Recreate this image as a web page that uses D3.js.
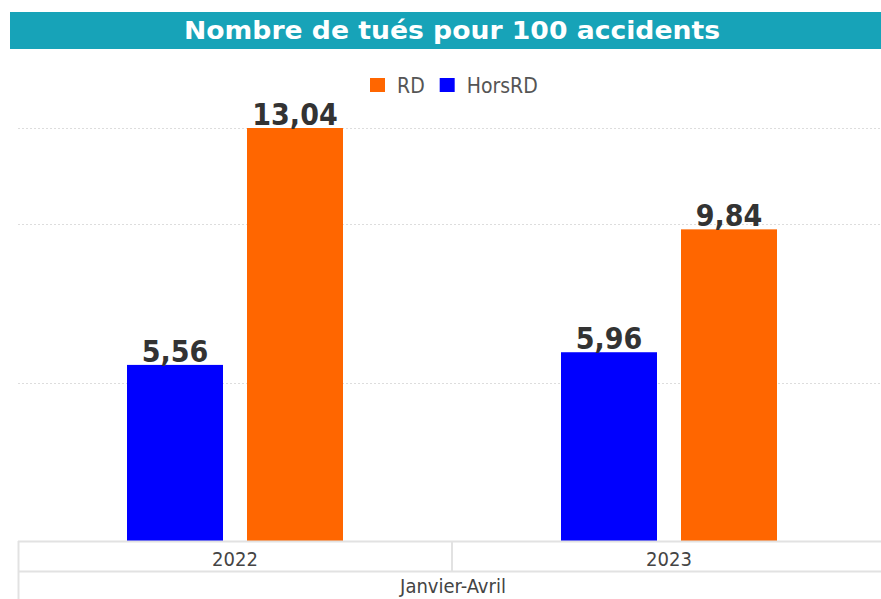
<!DOCTYPE html>
<html>
<head>
<meta charset="utf-8">
<script src="https://cdn.jsdelivr.net/npm/d3@7"></script>
<style>
  body { margin: 0; background: #fff; }
  svg { display: block; }
</style>
</head>
<body>
<svg id="canvas" width="881" height="599"></svg>
<script>
let title = "Nombre de tués pour 100 accidents";
let years = ["2022", "2023"];
let period = "Janvier-Avril";
let seriesNames = ["HorsRD", "RD"];
let legendOrder = ["RD", "HorsRD"];
let horsRD = [5.56, 5.96];
let rd = [13.04, 9.84];
let gridValues = [5, 10, 13.04];

let colors = { "RD": "#ff6600", "HorsRD": "#0000ff" };

let canvas = d3.select('#canvas');

let plotLeft = 18, plotRight = 886, baseline = 541, plotTop = 128;

let x = d3.scaleBand().domain(years).range([plotLeft, plotRight]);
let inner = d3.scaleBand().domain(seriesNames).range([0, 216]).paddingInner(0.2);
let y = d3.scaleLinear().domain([0, 13.04]).range([baseline, plotTop]);

let rows = years.map((yr, i) => ({ year: yr, HorsRD: horsRD[i], RD: rd[i] }));

// title bar
canvas.append('rect')
  .attr('x', 10).attr('y', 12).attr('width', 871).attr('height', 37)
  .attr('fill', '#17a3b8');
canvas.append('text')
  .attr('x', 452).attr('y', 38.5)
  .attr('text-anchor', 'middle')
  .attr('fill', '#fff')
  .attr('textLength', 536)
  .attr('lengthAdjust', 'spacingAndGlyphs')
  .style('font', 'bold 24px "DejaVu Sans"')
  .text(title);

// legend
let legend = canvas.append('g').attr('transform', 'translate(370,78)');
let lx = 0;
legendOrder.forEach((name) => {
  legend.append('rect').attr('x', lx).attr('y', 0).attr('width', 15).attr('height', 14)
    .attr('fill', colors[name]);
  let t = legend.append('text').attr('x', lx + 27).attr('y', 15)
    .attr('fill', '#555')
    .style('font', '21px "DejaVu Sans Condensed"')
    .text(name);
  lx += 27 + t.node().getComputedTextLength() + 15;
});

// grid
canvas.selectAll('line.grid')
  .data(gridValues)
  .enter()
  .append('line')
  .attr('class', 'grid')
  .attr('x1', plotLeft).attr('x2', 881)
  .attr('y1', d => Math.round(y(d)) + 0.5).attr('y2', d => Math.round(y(d)) + 0.5)
  .attr('stroke', '#dddddd')
  .attr('stroke-dasharray', '2,2');

// bars
let groups = canvas.selectAll('g.year')
  .data(rows)
  .enter()
  .append('g')
  .attr('class', 'year')
  .attr('transform', d => 'translate(' + (x(d.year) + (x.bandwidth() - 216) / 2) + ',0)');

groups.selectAll('rect')
  .data(d => seriesNames.map(s => ({ key: s, value: d[s] })))
  .enter()
  .append('rect')
  .attr('x', d => inner(d.key))
  .attr('y', d => y(d.value))
  .attr('width', inner.bandwidth())
  .attr('height', d => baseline - y(d.value))
  .attr('fill', d => colors[d.key]);

groups.selectAll('text')
  .data(d => seriesNames.map(s => ({ key: s, value: d[s] })))
  .enter()
  .append('text')
  .attr('x', d => inner(d.key) + inner.bandwidth() / 2)
  .attr('y', d => y(d.value) - 3)
  .attr('text-anchor', 'middle')
  .attr('fill', '#333')
  .style('font', 'bold 30px "DejaVu Sans Condensed"')
  .text(d => d.value.toFixed(2).replace('.', ','));

// category table
let border = '#e2e2e2';
canvas.append('line').attr('x1', plotLeft).attr('x2', 881).attr('y1', baseline + 0.5).attr('y2', baseline + 0.5).attr('stroke', border).attr('stroke-width', 2);
canvas.append('line').attr('x1', plotLeft).attr('x2', 881).attr('y1', 571.5).attr('y2', 571.5).attr('stroke', border).attr('stroke-width', 2);
canvas.append('line').attr('x1', plotLeft + 0.5).attr('x2', plotLeft + 0.5).attr('y1', baseline).attr('y2', 599).attr('stroke', border).attr('stroke-width', 2);
canvas.append('line').attr('x1', x('2023')).attr('x2', x('2023')).attr('y1', baseline).attr('y2', 571).attr('stroke', border).attr('stroke-width', 2);

canvas.selectAll('text.year')
  .data(years)
  .enter()
  .append('text')
  .attr('class', 'year')
  .attr('x', d => x(d) + x.bandwidth() / 2)
  .attr('y', 566)
  .attr('text-anchor', 'middle')
  .attr('fill', '#444')
  .style('font', '20px "DejaVu Sans Condensed"')
  .text(d => d);

canvas.append('text')
  .attr('x', 453).attr('y', 593)
  .attr('text-anchor', 'middle')
  .attr('fill', '#444')
  .style('font', '20px "DejaVu Sans Condensed"')
  .text(period);
</script>
</body>
</html>
